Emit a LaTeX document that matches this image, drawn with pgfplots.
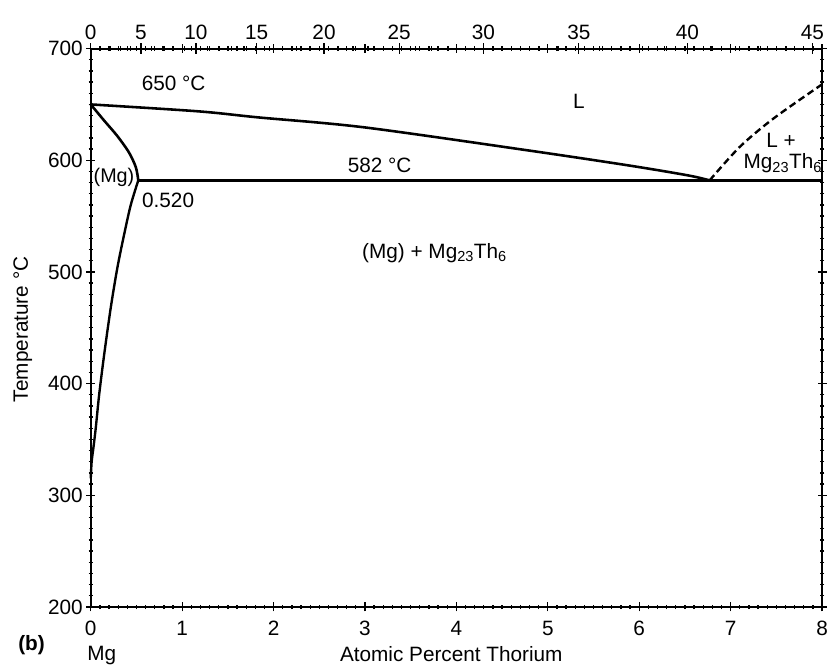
\documentclass[border=0pt]{standalone}
\usepackage{fontspec}
\setmainfont{Liberation Sans}
\usepackage{pgfplots}
\pgfplotsset{compat=1.18}
\begin{document}
\begin{tikzpicture}
\begin{axis}[name=main, scale only axis, width=737.5bp, height=563bp,
  xmin=0, xmax=8, ymin=200, ymax=700,
  xtick={0,1,...,8}, minor x tick num=9,
  ytick={200,300,...,700}, minor y tick num=9,
  xtick pos=both, ytick pos=both, xticklabel pos=bottom, yticklabel pos=left,
  tick align=center, major tick length=9bp, minor tick length=4.5bp,
  tick style={black, line width=1.3pt},
  axis line style={line width=2.2pt},
  font=\fontsize{21}{25}\selectfont,
  tick label style={font=\fontsize{21}{25}\selectfont},
  xticklabel style={yshift=-6bp},
  /pgf/number format/assume math mode=true,
  xlabel={Atomic Percent Thorium},
  xlabel style={at={(axis description cs:0.493,-0.085)}, anchor=center},
  ylabel={Temperature °C},
  ylabel style={at={(axis description cs:-0.093,0.497)}, anchor=center},
  clip=false]
% liquidus
\addplot[black, line width=2.6pt, smooth, tension=0.5] coordinates {
 (0,650) (1.178,643.8) (1.83,638.4) (2.988,629.5) (4.794,608.7) (5.88,595.4) (6.53,586.5) (6.77,582)};
% solvus of (Mg)
\addplot[black, line width=2.6pt, smooth, tension=0.5] coordinates {
 (0,650) (0.147,635.5) (0.288,622) (0.418,607) (0.494,593.6) (0.52,582)};
\addplot[black, line width=2.4pt, smooth, tension=0.5] coordinates {
 (0.52,582) (0.437,559.7) (0.364,533) (0.291,503.6) (0.219,468) (0.147,426) (0.092,390) (0.056,361) (0.03,343) (0.01,330) (0,315)};
% eutectic isotherm
\addplot[black, line width=2.8pt] coordinates {(0.52,582) (8,582)};
% dashed liquidus
\addplot[black, line width=2.4pt, dash pattern=on 7bp off 4bp, smooth, tension=0.5] coordinates {
 (6.77,582) (7.10,612) (7.47,637.5) (8,668)};
% labels
\node at (axis cs:0.907,669) {650 °C};
\node at (axis cs:5.34,653) {L};
\node at (axis cs:3.16,595.5) {582 °C};
\node[anchor=west, inner sep=0pt, font=\fontsize{20}{24}\selectfont] at (axis cs:0.03,584.5) {(Mg)};
\node[anchor=west, inner sep=0pt] at (axis cs:0.56,564) {0.520};
\node at (axis cs:3.76,517) {(Mg) + Mg\textsubscript{23}Th\textsubscript{6}};
\node at (axis cs:7.55,618) {L +};
\node at (axis cs:7.57,597) {Mg\textsubscript{23}Th\textsubscript{6}};
\node[font=\bfseries\fontsize{21}{25}\selectfont] at (axis description cs:-0.081,-0.068) {(b)};
\node at (axis description cs:0.015,-0.087) {Mg};
\end{axis}
\begin{axis}[scale only axis, width=737.5bp, height=563bp,
  xmin=0, xmax=8, ymin=200, ymax=700,
  axis x line*=top, axis y line=none,
  xtick={0,0.54827,1.15044,1.81490,2.55180,3.37371,4.29622,5.33897,6.52721,7.89356},
  xticklabels={0,5,10,15,20,25,30,35,40,45},
  minor xtick={0.10569,0.21331,0.32291,0.43454,0.66415,0.78224,0.90260,1.02532,1.27806,1.40823,1.54104,1.67656,1.95611,2.10032,2.24761,2.39806,2.70893,2.86957,3.03381,3.20178,3.54955,3.72964,3.91396,4.10278,4.49443,4.69762,4.90598,5.11969,5.56408,5.79519,6.03258,6.27649,6.78500,7.05021,7.32316,7.60414},
  tick align=center, major tick length=11bp, minor tick length=4.5bp,
  tick style={black, line width=1.3pt},
  axis line style={line width=2.2pt},
  tick label style={font=\fontsize{21}{25}\selectfont},
  xticklabel style={yshift=0bp},
  /pgf/number format/assume math mode=true]
\addplot[draw=none] coordinates {(0,200) (8,700)};
\end{axis}
\pgfresetboundingbox
\path[use as bounding box] ([shift={(-91.5bp,-62bp)}]main.south west) rectangle ([shift={(11bp,49bp)}]main.north east);
\end{tikzpicture}
\end{document}
